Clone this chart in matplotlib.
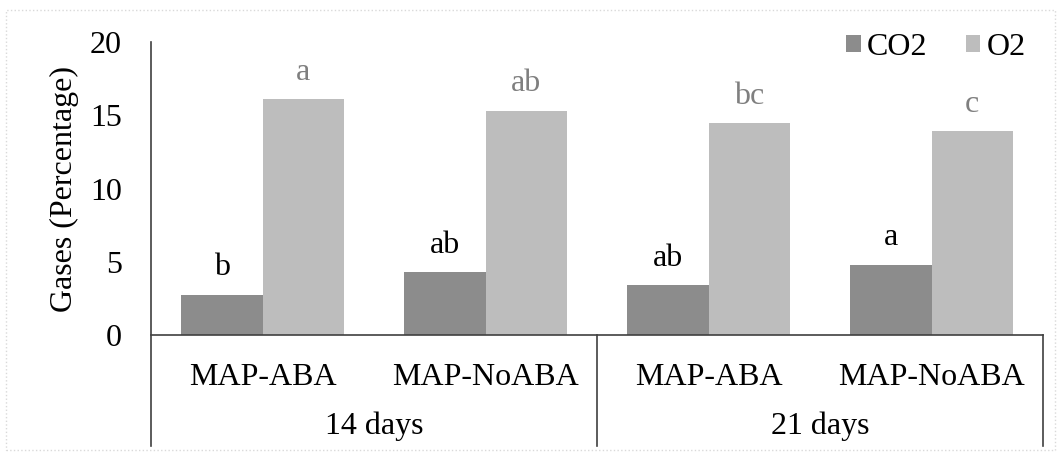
import matplotlib
matplotlib.use('Agg')
import matplotlib.pyplot as plt
import matplotlib.transforms as mtransforms
from matplotlib.patches import Rectangle
import numpy as np

# dados
tratamentos = ['MAP-ABA', 'MAP-NoABA', 'MAP-ABA', 'MAP-NoABA']
grupos = ['14 days', '21 days']
co2 = [2.75, 4.3, 3.4, 4.8]
o2 = [16.1, 15.3, 14.45, 13.9]
letras_co2 = ['b', 'ab', 'ab', 'a']
letras_o2 = ['a', 'ab', 'bc', 'c']

plt.rcParams['font.family'] = ['Liberation Serif', 'DejaVu Serif']
fs = 23

fig = plt.figure(figsize=(10.62, 4.54), dpi=100)
ax = fig.add_axes([151 / 1062, 1 - 335 / 454, (1043 - 151) / 1062, (335 - 42) / 454])

x = np.arange(len(tratamentos))
w = 0.365
b1 = ax.bar(x - w / 2, co2, w, color='#8c8c8c', label='CO2')
b2 = ax.bar(x + w / 2, o2, w, color='#bdbdbd', label='O2')

for rect, txt in zip(b1, letras_co2):
    ax.annotate(txt, (rect.get_x() + rect.get_width() / 2, rect.get_height()),
                xytext=(0, 9), textcoords='offset points', ha='center', va='bottom',
                fontsize=fs, color='black')
for rect, txt in zip(b2, letras_o2):
    ax.annotate(txt, (rect.get_x() + rect.get_width() / 2, rect.get_height()),
                xytext=(0, 9), textcoords='offset points', ha='center', va='bottom',
                fontsize=fs, color='#7f7f7f')

ax.set_xlim(-0.5, 3.5)
ax.set_ylim(0, 20)
ax.set_yticks([0, 5, 10, 15, 20])
ax.tick_params(axis='y', length=0, labelsize=fs, pad=21)
ax.set_xticks(x)
ax.set_xticklabels(tratamentos)
ax.tick_params(axis='x', length=0, labelsize=fs, pad=20)
ax.set_ylabel('Gases (Percentage)', fontsize=fs, labelpad=8)

for s in ['top', 'right', 'left']:
    ax.spines[s].set_visible(False)
ax.spines['bottom'].set_color('#404040')
ax.spines['bottom'].set_linewidth(1.2)

# linhas verticais da tabela de categorias
fundo = -(446 - 335) / (335 - 42)
trans = mtransforms.blended_transform_factory(ax.transData, ax.transAxes)
ax.plot([-0.5, -0.5], [1.0, fundo], color='#404040', lw=1.2, transform=trans, clip_on=False)
for xv in [1.5, 3.5]:
    ax.plot([xv, xv], [0, fundo], color='#404040', lw=1.2, transform=trans, clip_on=False)

for i, g in enumerate(grupos):
    ax.text(2 * i + 0.5, -(426 - 335) / (335 - 42), g, transform=trans,
            ha='center', va='center', fontsize=fs)

ax.legend(loc='upper right', bbox_to_anchor=(0.995, 1.075), ncol=2, frameon=False,
          fontsize=fs, handlelength=0.45, handleheight=0.45, handletextpad=0.2,
          columnspacing=1.2, borderaxespad=0)

fig.patches.append(Rectangle((6 / 1062, 4 / 454), 1049 / 1062, 440 / 454,
                             transform=fig.transFigure, fill=False,
                             edgecolor='#d9d9d9', lw=1, linestyle=':'))

fig.savefig('out.png', dpi=100)
